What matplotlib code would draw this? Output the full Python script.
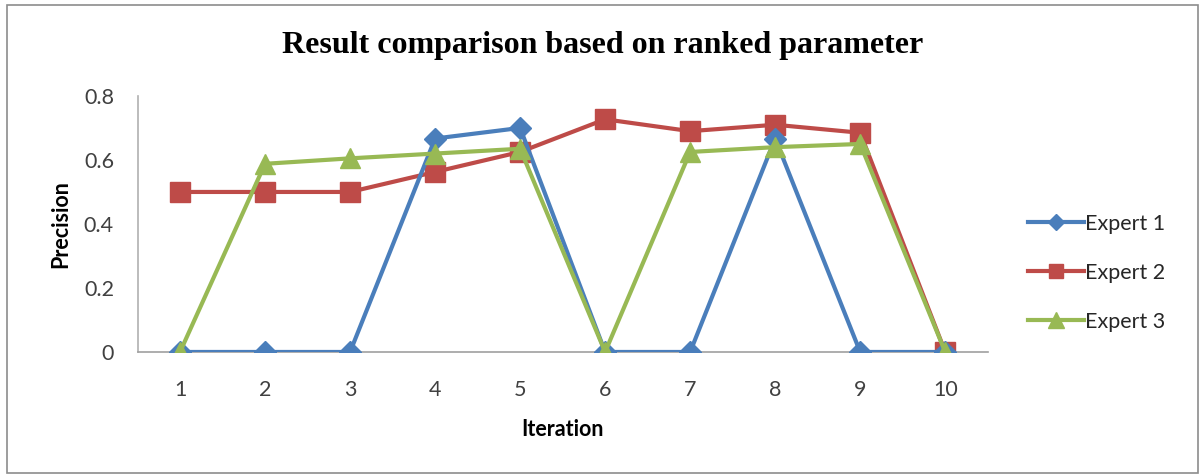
import matplotlib.pyplot as plt
from matplotlib.patches import Rectangle

iterations = [1, 2, 3, 4, 5, 6, 7, 8, 9, 10]
expert1 = [0, 0, 0, 0.667, 0.70, 0, 0, 0.667, 0, 0]
expert2 = [0.5, 0.5, 0.5, 0.5625, 0.625, 0.727, 0.69, 0.71, 0.685, 0]
expert3 = [0, 0.588, 0.605, 0.62, 0.635, 0, 0.625, 0.64, 0.65, 0]
names = ["Expert 1", "Expert 2", "Expert 3"]

blue = "#4A7EBB"
red = "#BE4B48"
green = "#98B954"

plt.rcParams['font.family'] = ['Lato', 'DejaVu Sans']

fig = plt.figure(figsize=(12, 4.75), dpi=100)
ax = fig.add_axes([0.1146, 0.259, 0.7085, 0.539])

# outer chart frame
fig.patches.append(Rectangle((0.006, 0.004), 0.992, 0.985, transform=fig.transFigure,
                             fill=False, edgecolor="#8c8c8c", linewidth=1.2))

ax.plot(iterations, expert1, color=blue, lw=3, marker="D", ms=11, label=names[0], zorder=3)
ax.plot(iterations, expert2, color=red, lw=3, marker="s", ms=14, label=names[1], zorder=2)
ax.plot(iterations, expert3, color=green, lw=3, marker="^", ms=15, label=names[2], zorder=4)

ax.set_xlim(0.5, 10.5)
ax.set_ylim(0, 0.8)
ax.set_yticks([0, 0.2, 0.4, 0.6, 0.8])
ax.set_yticklabels(["0", "0.2", "0.4", "0.6", "0.8"])
ax.set_xticks(iterations)
ax.tick_params(axis="both", length=0, labelsize=15.5, colors="#404040")
ax.tick_params(axis="y", pad=17)
ax.tick_params(axis="x", pad=20)
for s in ["top", "right"]:
    ax.spines[s].set_visible(False)
ax.spines["left"].set_color("#b0b0b0")
ax.spines["bottom"].set_color("#a0a0a0")
ax.spines["left"].set_linewidth(1.2)
ax.spines["bottom"].set_linewidth(1.2)
ax.patch.set_alpha(0)

ax.set_xlabel("Iteration", fontsize=15.5, fontweight="bold", labelpad=14)
ax.set_ylabel("Precision", fontsize=15.5, fontweight="bold", labelpad=9)

fig.text(0.502, 0.905, "Result comparison based on ranked parameter",
         ha="center", va="center", fontsize=23, fontweight="bold",
         family="Liberation Serif")

ax.legend(loc="center left", bbox_to_anchor=(1.025, 0.31), frameon=False,
          fontsize=15.5, handlelength=2.6, handletextpad=0.05, labelspacing=1.35,
          labelcolor="#262626", markerscale=0.75)

fig.savefig("out.png", dpi=100, facecolor="white")
